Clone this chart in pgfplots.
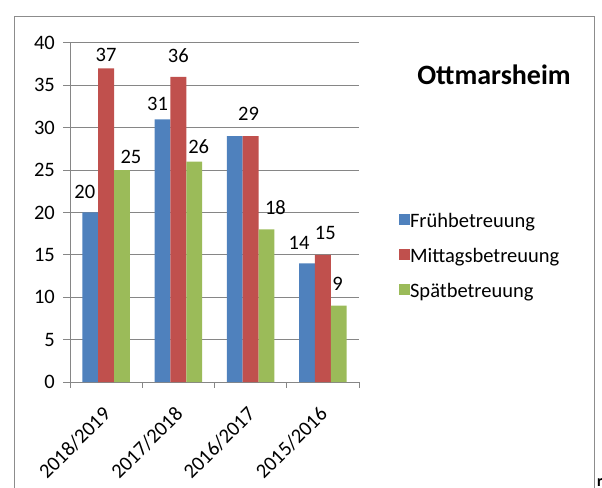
\documentclass[border=0pt]{standalone}
\usepackage{fontspec}
\setmainfont{Carlito}
\usepackage{pgfplots}
\usepackage{pgfplotstable}
\pgfplotsset{compat=1.18}
\definecolor{cblue}{RGB}{79,129,189}
\definecolor{cred}{RGB}{192,80,77}
\definecolor{cgreen}{RGB}{155,187,89}
\definecolor{lgray}{RGB}{134,134,134}
\definecolor{fgray}{RGB}{140,140,140}
\newcommand{\lbl}{\fontsize{20.5bp}{23bp}\selectfont}

\pgfplotstableread{
x y lab dx dy
0 20 20 -5.5 21
1 31 31 -5 15
2 29 {} 0 22
3 14 14 -8 20
}\frueh
\pgfplotstableread{
x y lab dx dy
0 37 37 0 13.5
1 36 36 0 21
2 29 29 -2 22.5
3 15 15 2.5 22
}\mittag
\pgfplotstableread{
x y lab dx dy
0 25 25 9 13.5
1 26 26 4.5 15
2 18 18 9 22
3 9 9 -1 22
}\spaet

\begin{document}
\begin{tikzpicture}
\path[use as bounding box] (0,0) rectangle (602bp,488bp);
\draw[fgray, line width=1bp] (14bp,-2bp) -- (14bp,471bp) -- (594bp,471bp) -- (594bp,-2bp);
\node[anchor=base, font=\fontsize{28bp}{31bp}\selectfont\bfseries, inner sep=0pt] at (494bp,403bp) {Ottmarsheim};
\node[anchor=base west, inner sep=0pt, font=\fontsize{16bp}{18bp}\selectfont\bfseries] at (597bp,2bp) {r};
\begin{axis}[
  at={(70bp,106bp)}, anchor=south west,
  scale only axis, width=289bp, height=339bp,
  ybar=0pt, bar width=15.8bp,
  xmin=-0.5, xmax=3.5, ymin=0, ymax=40,
  xtick={0,1,2,3},
  xticklabels={2018/2019,2017/2018,2016/2017,2015/2016},
  xtick style={draw=none},
  xticklabel style={xshift=-4.6bp, yshift=-16bp, rotate=45, anchor=north east, inner sep=0pt, font=\lbl},
  ytick={0,5,...,40},
  yticklabel style={font=\lbl, inner sep=0pt, xshift=-8bp},
  /pgf/number format/assume math mode=true,
  tick align=outside, major tick length=7bp,
  tick style={lgray, line width=1bp},
  ymajorgrids, grid style={lgray, line width=1bp},
  axis x line*=bottom, axis y line*=left,
  axis line style={-, lgray, line width=1bp},
  clip=false,
  point meta=explicit symbolic,
  nodes near coords,
  visualization depends on={\thisrow{dx} \as \dx},
  visualization depends on={\thisrow{dy} \as \dy},
  nodes near coords style={font=\lbl, text=black, anchor=center, inner sep=0pt, xshift=\dx*1bp, yshift=\dy*1bp},
  legend style={draw=none, fill=none, at={(1.138,0.369)}, anchor=west, inner sep=0pt,
    font=\lbl, row sep=19bp, nodes={inner sep=0pt, text height=0.72em, text depth=0.22em},
    /tikz/every even column/.append style={column sep=5bp}},
  legend cell align=left,
  legend image code/.code={\fill[#1] (0bp,0bp) rectangle (11bp,11bp);},
]
\addplot[fill=cblue, draw=none] table[x=x, y=y, meta=lab] {\frueh};
\addplot[fill=cred, draw=none] table[x=x, y=y, meta=lab] {\mittag};
\addplot[fill=cgreen, draw=none] table[x=x, y=y, meta=lab] {\spaet};
\draw[lgray, line width=1bp] (axis cs:-0.5,0) -- ([yshift=-6bp]axis cs:-0.5,0);
\draw[lgray, line width=1bp] (axis cs:0.5,0) -- ([yshift=-6bp]axis cs:0.5,0);
\draw[lgray, line width=1bp] (axis cs:1.5,0) -- ([yshift=-6bp]axis cs:1.5,0);
\draw[lgray, line width=1bp] (axis cs:2.5,0) -- ([yshift=-6bp]axis cs:2.5,0);
\draw[lgray, line width=1bp] (axis cs:3.5,0) -- ([yshift=-6bp]axis cs:3.5,0);
\legend{Frühbetreuung,Mittagsbetreuung,Spätbetreuung}
\end{axis}
\end{tikzpicture}
\end{document}
